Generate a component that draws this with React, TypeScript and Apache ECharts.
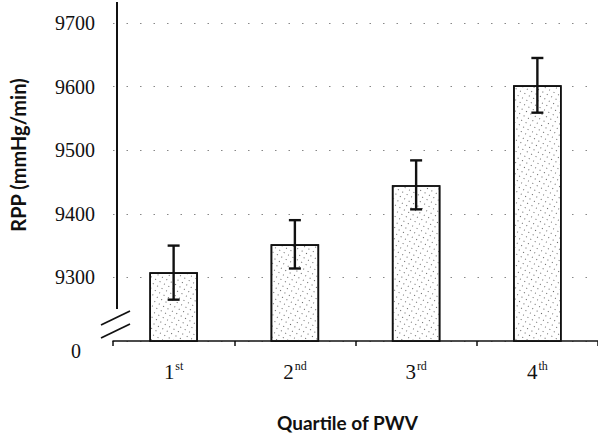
import React, { useEffect, useRef } from "react";
import * as echarts from "echarts";

const quartiles = ["1", "2", "3", "4"];
const suffixes = ["st", "nd", "rd", "th"];
const meanRPP = [9308, 9352, 9445, 9602];
const errLow = [9265, 9314, 9407, 9559];
const errHigh = [9350, 9390, 9484, 9645];
const yMin = 9200;
const yMax = 9700;
const yStep = 100;

const GRID = { left: 113, right: 0, top: 23, bottom: 95 };

export default function App() {
  const ref = useRef<HTMLDivElement>(null);
  useEffect(() => {
    if (!ref.current) return;
    const chart = echarts.init(ref.current, undefined, { renderer: "svg" });
    const serif = "'Liberation Serif', 'DejaVu Serif', serif";
    const sans = "Lato, 'Open Sans', sans-serif";
    const axisY = 437 - GRID.bottom;
    chart.setOption({
      animation: false,
      backgroundColor: "#ffffff",
      grid: { ...GRID, containLabel: false },
      xAxis: {
        type: "category",
        data: quartiles,
        boundaryGap: true,
        axisLine: { show: true, lineStyle: { color: "#111", width: 1.5 } },
        axisTick: { show: true, length: 5, alignWithLabel: false, lineStyle: { color: "#111", width: 1.5 } },
        axisLabel: {
          margin: 19,
          formatter: (v: string, i: number) => `{n|${v}}{s|${suffixes[i]}}`,
          rich: {
            n: { fontFamily: serif, fontSize: 21, color: "#111" },
            s: { fontFamily: serif, fontSize: 12, color: "#111", padding: [0, 0, 11, 1] },
          },
        },
        name: "Quartile of PWV",
        nameLocation: "middle",
        nameGap: 72,
        nameTextStyle: { fontFamily: sans, fontWeight: "bold", fontSize: 19, color: "#111", padding: [0, 16, 0, 0] },
        splitLine: { show: false },
      },
      yAxis: {
        type: "value",
        min: yMin,
        max: yMax,
        interval: yStep,
        axisLine: { show: false },
        axisTick: { show: false },
        axisLabel: {
          margin: 18,
          formatter: (v: number) => (v === yMin ? "{z|0}" : String(v)),
          fontFamily: serif,
          fontSize: 20,
          color: "#111",
          rich: {
            z: { fontFamily: serif, fontSize: 20, color: "#111", padding: [20, 14, 0, 0] },
          },
        },
        splitLine: { show: true, lineStyle: { color: "#888", width: 1.2, type: [1.5, 12] } },
        name: "RPP (mmHg/min)",
        nameLocation: "middle",
        nameGap: 85,
        nameRotate: 90,
        nameTextStyle: { fontFamily: sans, fontWeight: "bold", fontSize: 20, color: "#111", padding: [0, 0, 0, 54] },
      },
      series: [
        {
          type: "bar",
          data: meanRPP,
          barWidth: "40%",
          itemStyle: {
            color: "#ffffff",
            borderColor: "#111",
            borderWidth: 1.6,
            decal: {
              symbol: "rect",
              symbolSize: 1,
              dashArrayX: [1, 4],
              dashArrayY: [1, 4],
              rotation: 0.5,
              color: "#666",
            },
          },
          z: 2,
        },
        {
          type: "custom",
          data: quartiles.map((_, i) => [i, errLow[i], errHigh[i]]),
          renderItem: (params: any, api: any) => {
            const lo = api.coord([api.value(0), api.value(1)]);
            const hi = api.coord([api.value(0), api.value(2)]);
            const cap = 6;
            const style = { stroke: "#111", lineWidth: 2.4 };
            return {
              type: "group",
              children: [
                { type: "line", shape: { x1: lo[0], y1: lo[1], x2: hi[0], y2: hi[1] }, style },
                { type: "line", shape: { x1: lo[0] - cap, y1: lo[1], x2: lo[0] + cap, y2: lo[1] }, style },
                { type: "line", shape: { x1: hi[0] - cap, y1: hi[1], x2: hi[0] + cap, y2: hi[1] }, style },
              ],
            };
          },
          z: 3,
        },
      ],
      graphic: [
        { type: "line", shape: { x1: 117, y1: 2, x2: 117, y2: 309 }, style: { stroke: "#111", lineWidth: 2 }, z: 10 },
        { type: "line", shape: { x1: 101, y1: axisY - 17, x2: 130, y2: axisY - 31 }, style: { stroke: "#111", lineWidth: 1.8 }, z: 10 },
        { type: "line", shape: { x1: 101, y1: axisY - 4, x2: 130, y2: axisY - 18 }, style: { stroke: "#111", lineWidth: 1.8 }, z: 10 },
      ],
    });
    return () => chart.dispose();
  }, []);
  return <div ref={ref} style={{ width: 598, height: 437, position: "absolute", left: 0, top: 0 }} />;
}
